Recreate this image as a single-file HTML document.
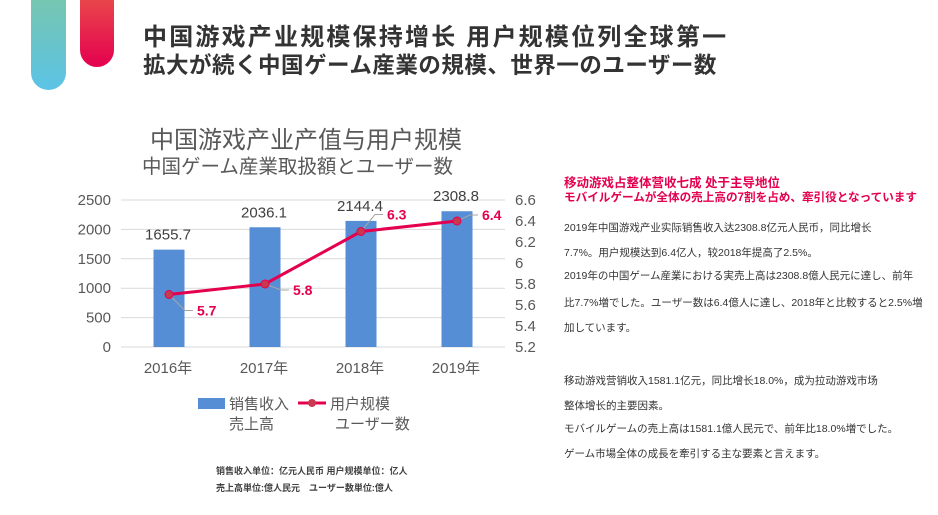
<!DOCTYPE html>
<html><head><meta charset="utf-8">
<style>
body{margin:0;width:938px;height:515px;background:#fff;overflow:hidden;position:relative;font-family:"Liberation Sans","Noto Sans CJK SC",sans-serif}
.abs{position:absolute;white-space:nowrap}
.t{font-weight:bold;color:#333;left:143px}
.rt{left:564px;font-size:10.5px;color:#333;font-family:"Liberation Sans","Noto Sans CJK JP",sans-serif}
.rh{left:564px;font-size:11.6px;font-weight:bold;color:#e4004f}
</style></head><body>
<div class="abs" style="left:31px;top:-20px;width:35px;height:110px;border-radius:0 0 18px 18px;background:linear-gradient(#7cc6a4,#5bc3e6)"></div>
<div class="abs" style="left:80px;top:-20px;width:34px;height:87px;border-radius:0 0 17px 17px;background:linear-gradient(#ea5a4a,#e4004f)"></div>
<div class="abs t" style="top:17px;font-size:24px;letter-spacing:2.2px;font-family:'Liberation Sans','Noto Sans CJK SC',sans-serif">中国游戏产业规模保持增长 用户规模位列全球第一</div>
<div class="abs t" style="top:48px;font-size:22.5px;letter-spacing:0.5px;font-family:'Liberation Sans','Noto Sans CJK JP',sans-serif">拡大が続く中国ゲーム産業の規模、世界一のユーザー数</div>

<div class="abs" style="left:150px;top:120px;font-size:24px;color:#595959">中国游戏产业产值与用户规模</div>
<div class="abs" style="left:142px;top:150px;font-size:19.5px;color:#595959;font-family:'Liberation Sans','Noto Sans CJK JP',sans-serif">中国ゲーム産業取扱額とユーザー数</div>

<svg id="chart" class="abs" style="left:0;top:0" width="560" height="515"></svg>

<div class="abs rh" style="top:172px;font-size:12.5px">移动游戏占整体营收七成 处于主导地位</div>
<div class="abs rh" style="top:189px;font-family:'Liberation Sans','Noto Sans CJK JP',sans-serif">モバイルゲームが全体の売上高の7割を占め、牽引役となっています</div>
<div class="abs rt" style="top:220px">2019年中国游戏产业实际销售收入达2308.8亿元人民币，同比增长</div>
<div class="abs rt" style="top:245px">7.7%。用户规模达到6.4亿人，较2018年提高了2.5%。</div>
<div class="abs rt" style="top:268px">2019年の中国ゲーム産業における実売上高は2308.8億人民元に達し、前年</div>
<div class="abs rt" style="top:295px">比7.7%増でした。ユーザー数は6.4億人に達し、2018年と比較すると2.5%増</div>
<div class="abs rt" style="top:320px">加しています。</div>
<div class="abs rt" style="top:373px">移动游戏营销收入1581.1亿元，同比增长18.0%，成为拉动游戏市场</div>
<div class="abs rt" style="top:398px">整体增长的主要因素。</div>
<div class="abs rt" style="top:421px">モバイルゲームの売上高は1581.1億人民元で、前年比18.0%増でした。</div>
<div class="abs rt" style="top:446px">ゲーム市場全体の成長を牽引する主な要素と言えます。</div>

<script>
const categories=["2016年","2017年","2018年","2019年"];
const revenue=[1655.7,2036.1,2144.4,2308.8];
const users=[5.7,5.8,6.3,6.4];
const leftTicks=[0,500,1000,1500,2000,2500];
const rightTicks=["5.2","5.4","5.6","5.8","6","6.2","6.4","6.6"];
const svg=document.getElementById('chart');
const NS="http://www.w3.org/2000/svg";
const X0=121,X1=505,Y0=347,Y1=200;
const band=(X1-X0)/categories.length;
const xc=i=>X0+band*(i+0.5);
const yL=v=>Y0-(v/2500)*(Y0-Y1);
const yR=v=>Y0-((v-5.2)/1.4)*(Y0-Y1);
function el(tag,a,txt){const e=document.createElementNS(NS,tag);for(const k in a)e.setAttribute(k,a[k]);if(txt!==undefined)e.textContent=txt;svg.appendChild(e);return e;}
const F='"Liberation Sans","Noto Sans CJK SC",sans-serif';
leftTicks.forEach(v=>{
  const g=el('line',{x1:X0,x2:X1,y1:yL(v),y2:yL(v),stroke:'#d9d9d9','stroke-width':1});
  
  
  const t=el('text',{x:111,y:yL(v)+5,'text-anchor':'end','font-size':15,fill:'#595959','font-family':F},String(v));
  
  
});
rightTicks.forEach(s=>{
  const t=el('text',{x:515,y:yR(parseFloat(s))+5,'font-size':15,fill:'#595959','font-family':F},s);
  
  
});
categories.forEach((c,i)=>{
  const b=el('rect',{x:xc(i)-15.5,y:yL(revenue[i]),width:31,height:Y0-yL(revenue[i]),fill:'#558ed5'});
  
  
  const l=el('text',{x:xc(i)-1,y:yL(revenue[i])-10,'text-anchor':'middle','font-size':15,fill:'#404040','font-family':F},revenue[i].toFixed(1));
  
  
  const x=el('text',{x:xc(i)-1,y:373,'text-anchor':'middle','font-size':15,fill:'#595959','font-family':F},c);
  
  
});
const lblOff=[[28,20],[28,10],[26,-13],[25,-2]];
users.forEach((v,i)=>{
  const px=xc(i),py=yR(v),o=lblOff[i];
  const ld=el('polyline',{points:`${px},${py} ${px+o[0]-12},${py+o[1]-4} ${px+o[0]-4},${py+o[1]-4}`,fill:'none',stroke:'#a6a6a6','stroke-width':1});
  
  
  const t=el('text',{x:px+o[0],y:py+o[1]+1,'font-size':14,'font-weight':'bold',fill:'#e4004f','font-family':F},v.toFixed(1));
  
  
});
const line=el('polyline',{points:users.map((v,i)=>xc(i)+','+yR(v)).join(' '),fill:'none',stroke:'#e4004f','stroke-width':3});


users.forEach((v,i)=>{
  const c=el('circle',{cx:xc(i),cy:yR(v),r:4,fill:'#c8384f',stroke:'#e4004f','stroke-width':1});
  
  
});
const lb=el('rect',{x:198,y:398,width:27,height:11,fill:'#558ed5'});


const lt1=el('text',{x:229,y:409,'font-size':15,fill:'#595959','font-family':F},'销售收入');


const lt1b=el('text',{x:229,y:429,'font-size':15,fill:'#595959','font-family':'"Liberation Sans","Noto Sans CJK JP",sans-serif'},'売上高');


const ll=el('line',{x1:298,x2:326,y1:403,y2:403,stroke:'#e4004f','stroke-width':3});


const lc=el('circle',{cx:312,cy:403,r:4,fill:'#c8384f'});


const lt2=el('text',{x:330,y:409,'font-size':15,fill:'#595959','font-family':F},'用户规模');


const lt2b=el('text',{x:335,y:429,'font-size':15,fill:'#595959','font-family':'"Liberation Sans","Noto Sans CJK JP",sans-serif'},'ユーザー数');


const n1=el('text',{x:216,y:474,'font-size':9,'font-weight':'bold',fill:'#404040','font-family':F},'销售收入单位：亿元人民币 用户规模单位：亿人');


const n2=el('text',{x:216,y:491,'font-size':9,'font-weight':'bold',fill:'#404040','font-family':'"Liberation Sans","Noto Sans CJK JP",sans-serif'},'売上高単位:億人民元　ユーザー数単位:億人');


</script>
</body></html>
